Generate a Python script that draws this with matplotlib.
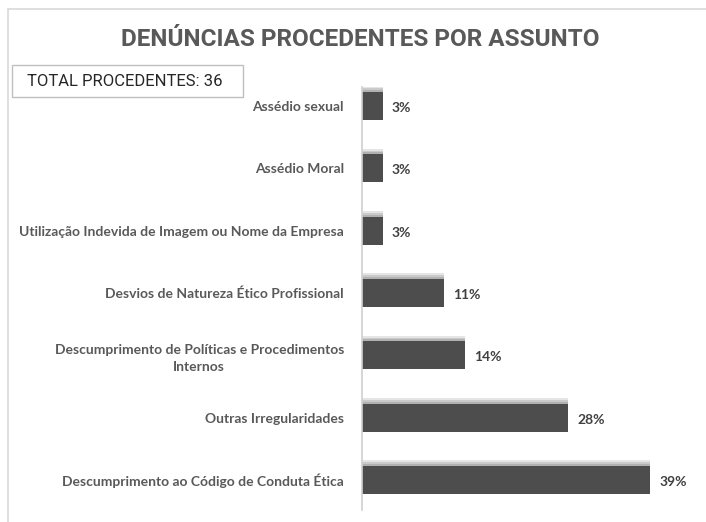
import matplotlib.pyplot as plt
from matplotlib.patches import Rectangle
from matplotlib import font_manager

# dados (de baixo para cima)
assuntos = [
    'Descumprimento ao Código de Conduta Ética',
    'Outras Irregularidades',
    'Descumprimento de Políticas e Procedimentos\nInternos',
    'Desvios de Natureza Ético Profissional',
    'Utilização Indevida de Imagem ou Nome da Empresa',
    'Assédio Moral',
    'Assédio sexual',
]
percentuais = [38.9, 27.8, 13.9, 11.1, 2.8, 2.8, 2.8]
total = 36

nomes = {f.name for f in font_manager.fontManager.ttflist}
titulo_font = 'Liberation Sans Narrow' if 'Liberation Sans Narrow' in nomes else 'Roboto'

fig = plt.figure(figsize=(7.06, 5.22), dpi=100)
W, H = 706, 522

# moldura externa clara
fig.patches.append(Rectangle((8 / W, -0.1), 1.2, 1 - 9 / H + 0.1,
                             transform=fig.transFigure, fill=False,
                             edgecolor='#d9d9d9', linewidth=1.2))

ax = fig.add_axes([362 / W, 1 - 510 / H, (700 - 362) / W, (510 - 87) / H])
y = list(range(len(assuntos)))

# sombra suave (degrade) acima das barras
for dy, a in [(0.09, 0.25), (0.06, 0.35), (0.03, 0.5)]:
    ax.barh([v + dy for v in y], percentuais, height=0.45, color='#9a9a9a',
            edgecolor='none', alpha=a)
ax.barh(y, percentuais, height=0.45, color='#4d4d4d', edgecolor='none')

for yi, p in zip(y, percentuais):
    ax.text(p + 1.2, yi - 0.03, f'{p:.0f}%', va='center', ha='left',
            fontsize=10, fontweight='bold', color='#404040', family='Lato')

ax.set_xlim(0, 45.6)
ax.set_ylim(-0.48, 6.305)
ax.set_yticks(y)
ax.set_yticklabels(assuntos, fontsize=10, fontweight='bold', color='#595959',
                   family='Lato', multialignment='center', linespacing=1.5)
ax.tick_params(axis='y', length=0, pad=13)
ax.set_xticks([])
for s in ['top', 'right', 'bottom']:
    ax.spines[s].set_visible(False)
ax.spines['left'].set_color('#d0d0d0')
ax.spines['left'].set_linewidth(1.2)

fig.text(360 / W, 1 - 40 / H, 'DENÚNCIAS PROCEDENTES POR ASSUNTO',
         ha='center', va='center', fontsize=17.5, fontweight='bold',
         color='#595959', family=titulo_font)

# caixa do total
fig.patches.append(Rectangle((12 / W, 1 - 97 / H), 231 / W, 32 / H,
                             transform=fig.transFigure, facecolor='white',
                             edgecolor='#bfbfbf', linewidth=1))
fig.text(27 / W, 1 - 81 / H, f'TOTAL PROCEDENTES: {total}', ha='left',
         va='center', fontsize=12, color='#262626', family=titulo_font)

fig.savefig('out.png', dpi=100)
